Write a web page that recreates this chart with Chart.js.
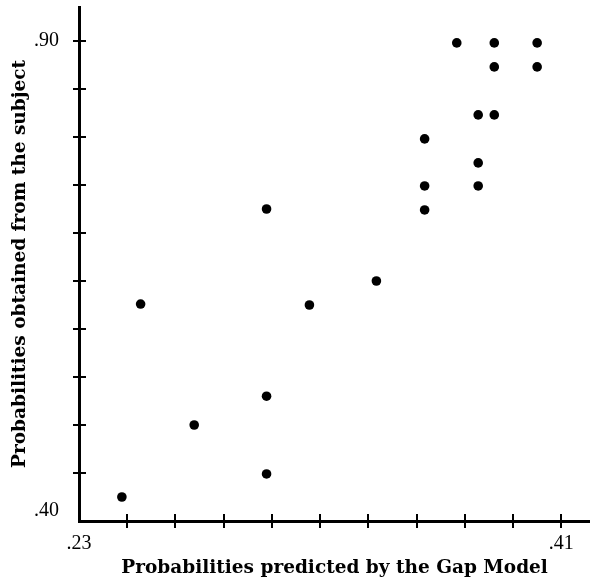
<!DOCTYPE html>
<html><head><meta charset="utf-8">
<script src="https://cdn.jsdelivr.net/npm/chart.js@4/dist/chart.umd.min.js"></script>
<style>html,body{margin:0;padding:0;background:#fff;overflow:hidden}canvas{display:block}</style>
</head><body>
<canvas id="c" width="595" height="588"></canvas>
<script>
// Data
const predicted = [0.371, 0.385, 0.401, 0.385, 0.401, 0.379, 0.385, 0.359, 0.379, 0.359, 0.379, 0.359, 0.300, 0.341, 0.253, 0.316, 0.300, 0.273, 0.300, 0.246];
const observed  = [0.898, 0.898, 0.898, 0.873, 0.873, 0.823, 0.823, 0.798, 0.773, 0.749, 0.749, 0.724, 0.725, 0.650, 0.626, 0.625, 0.530, 0.500, 0.449, 0.425];

const xTickValues = [0.23, 0.248, 0.266, 0.284, 0.302, 0.32, 0.338, 0.356, 0.374, 0.392, 0.41];
const xTickLabels = ['.23', '', '', '', '', '', '', '', '', '', '.41'];
const yTickValues = [0.40, 0.45, 0.50, 0.55, 0.60, 0.65, 0.70, 0.75, 0.80, 0.85, 0.90];
const yTickLabels = [['.40', ''], '', '', '', '', '', '', '', '', '', '.90'];

const xTitle = 'Probabilities predicted by the Gap Model';
const yTitle = 'Probabilities obtained from the subject';

const points = predicted.map((v, i) => ({ x: v, y: observed[i] }));

const innerTicks = {
  id: 'innerTicks',
  afterDraw(chart) {
    const { ctx, scales: { x, y }, chartArea: a } = chart;
    ctx.save();
    ctx.strokeStyle = '#000';
    ctx.lineWidth = 2;
    x.ticks.forEach((t, i) => {
      if (i === 0) return;
      const px = Math.round(x.getPixelForValue(t.value));
      ctx.beginPath(); ctx.moveTo(px, a.bottom); ctx.lineTo(px, a.bottom - 7); ctx.stroke();
    });
    y.ticks.forEach((t, i) => {
      if (i === 0) return;
      const py = Math.round(y.getPixelForValue(t.value));
      ctx.beginPath(); ctx.moveTo(a.left, py); ctx.lineTo(a.left + 7, py); ctx.stroke();
    });
    ctx.restore();
  }
};

const tickColor = c => (c.index === 0 ? 'rgba(0,0,0,0)' : '#000');
const noPad = s => { s.paddingTop = 0; s.paddingBottom = 0; s.paddingLeft = 0; s.paddingRight = 0; };

new Chart(document.getElementById('c'), {
  type: 'scatter',
  data: {
    datasets: [{
      data: points,
      backgroundColor: '#000',
      borderColor: '#000',
      pointRadius: 4.8,
      pointHoverRadius: 4.8,
      borderWidth: 0
    }]
  },
  options: {
    responsive: false,
    animation: false,
    devicePixelRatio: 1,
    layout: { padding: { top: 7, right: 0, left: 0, bottom: 0 } },
    plugins: { legend: { display: false }, tooltip: { enabled: false } },
    scales: {
      x: {
        type: 'linear',
        min: 0.23,
        max: 0.4208,
        afterBuildTicks: s => { s.ticks = xTickValues.map(v => ({ value: v })); },
        afterFit: s => { s.height = 67; noPad(s); },
        border: { display: true, color: '#000', width: 3 },
        grid: { drawOnChartArea: false, drawTicks: true, tickLength: 7, color: tickColor, lineWidth: 2 },
        ticks: {
          autoSkip: false, maxRotation: 0, padding: 4, color: '#000',
          font: { family: '"Liberation Serif", serif', size: 20 },
          callback: (v, i) => xTickLabels[i]
        },
        title: {
          display: true, text: xTitle, color: '#000',
          font: { family: '"DejaVu Serif", serif', size: 18.5, weight: 'bold' },
          padding: { top: 0, bottom: 9 }
        }
      },
      y: {
        type: 'linear',
        min: 0.40,
        max: 0.9354,
        afterBuildTicks: s => { s.ticks = yTickValues.map(v => ({ value: v })); },
        afterFit: s => { s.width = 79; noPad(s); },
        border: { display: true, color: '#000', width: 3 },
        grid: { drawOnChartArea: false, drawTicks: true, tickLength: 6, color: tickColor, lineWidth: 2 },
        ticks: {
          autoSkip: false, padding: 14, color: '#000',
          font: { family: '"Liberation Serif", serif', size: 20, lineHeight: 1.0 },
          callback: (v, i) => yTickLabels[i]
        },
        title: {
          display: true, text: yTitle, color: '#000',
          font: { family: '"DejaVu Serif", serif', size: 18.5, weight: 'bold' },
          padding: { top: 9, bottom: 0 }
        }
      }
    }
  },
  plugins: [innerTicks]
});
</script>
</body></html>
